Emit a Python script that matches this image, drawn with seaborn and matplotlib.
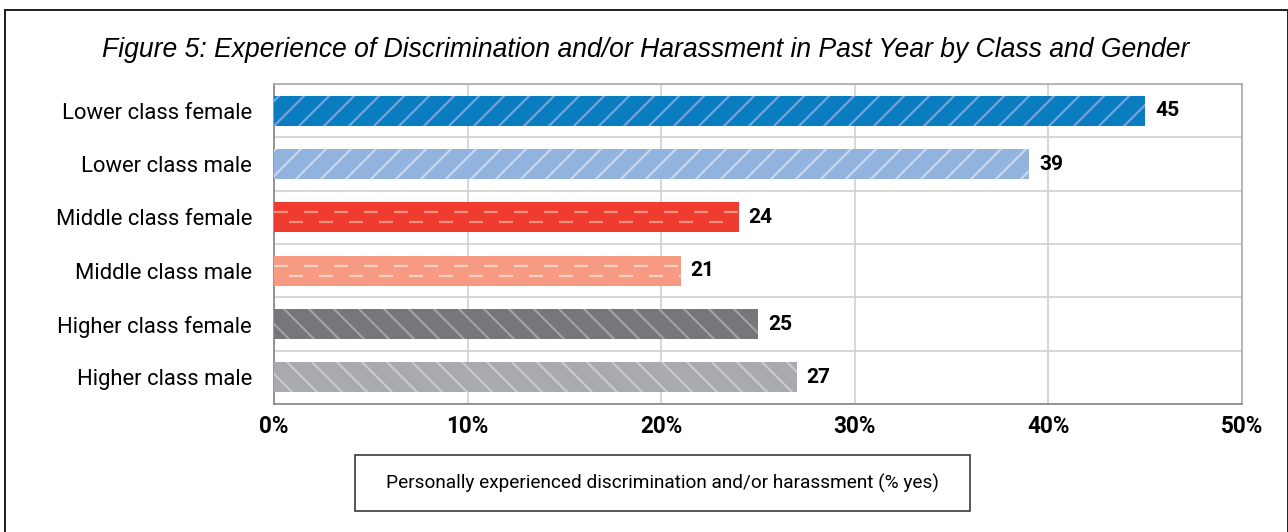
import numpy as np
import pandas as pd
import matplotlib
matplotlib.use("Agg")
import matplotlib.pyplot as plt
from matplotlib.patches import Rectangle
import seaborn as sns

# data
groups = ["Lower class female", "Lower class male", "Middle class female",
          "Middle class male", "Higher class female", "Higher class male"]
values = [45, 39, 24, 21, 25, 27]
bar_colors = ["#0a7dc1", "#93b3df", "#ef3b30", "#f69a83", "#76777a", "#a9aaad"]
hatch_colors = ["#7aa6db", "#c9d9f0", "#f6917b", "#fbcfbf", "#a2a3a5", "#cacbcd"]
hatches = ["//", "//", "dash", "dash", "\\\\", "\\\\"]
x_ticks = [0, 10, 20, 30, 40, 50]
title = "Figure 5: Experience of Discrimination and/or Harassment in Past Year by Class and Gender"
legend_text = "Personally experienced discrimination and/or harassment (% yes)"

DPI = 150
W, H = 1288, 532


def pt(px):
    return px * 72 / DPI


sns.set_style("white")
plt.rcParams["font.family"] = ["Roboto", "DejaVu Sans"]
plt.rcParams["text.color"] = "black"
plt.rcParams["xtick.color"] = "black"
plt.rcParams["ytick.color"] = "black"
plt.rcParams["hatch.linewidth"] = 1.0
plt.rcParams["lines.scale_dashes"] = False

df = pd.DataFrame({"group": groups, "value": values})

fig = plt.figure(figsize=(W / DPI, H / DPI), dpi=DPI)
ax = fig.add_axes([274 / W, 1 - 404 / H, 968 / W, 320 / H])

sns.barplot(data=df, x="value", y="group", hue="group", palette=bar_colors,
            order=groups, hue_order=groups, orient="h", width=0.56,
            saturation=1, legend=False, ax=ax, zorder=3)

# hatching / dashes
patches = [p for c in ax.containers for p in c]
for p, h, hc in zip(patches, hatches, hatch_colors):
    p.set_linewidth(0)
    p.set_edgecolor(hc)
    if h == "dash":
        y0, bh, bw = p.get_y(), p.get_height(), p.get_width()
        for k, off in enumerate([0, 15]):
            yy = y0 + bh * (k + 1) / 3
            ax.plot([0, bw], [yy, yy], color=hc, lw=pt(2.2), zorder=4,
                    solid_capstyle="butt", dash_capstyle="butt",
                    linestyle=(pt(30 - off) if off else 0, (pt(14), pt(16))))
    else:
        p.set_hatch(h)

for c in ax.containers:
    ax.bar_label(c, fmt="%d", padding=pt(10), fontsize=pt(21),
                 fontweight="bold", color="black")

ax.set_xlim(0, 50)
ax.set_ylim(5.5, -0.5)
ax.set_xticks(x_ticks)
ax.set_xticklabels([f"{t}%" for t in x_ticks], fontsize=pt(22.5), fontweight="bold")
ax.set_yticks(np.arange(-0.5, len(groups), 1), minor=True)
ax.tick_params(axis="y", which="major", length=0, pad=pt(22), labelsize=pt(22))
ax.tick_params(axis="y", which="minor", length=pt(4), width=pt(1.5), color="#c4c4c4")
ax.tick_params(axis="x", which="major", length=pt(6), width=pt(1.5), color="#8c8c8c",
               pad=pt(5))
ax.set_xlabel("")
ax.set_ylabel("")

ax.grid(axis="x", which="major", color="#cfcfcf", lw=pt(1.6), zorder=0)
ax.grid(axis="y", which="minor", color="#cfcfcf", lw=pt(1.6), zorder=0)
ax.set_axisbelow(True)
for side in ["top", "right"]:
    ax.spines[side].set_color("#a8a8a8")
    ax.spines[side].set_linewidth(pt(1.6))
for side in ["left", "bottom"]:
    ax.spines[side].set_color("#8c8c8c")
    ax.spines[side].set_linewidth(pt(1.8))

fig.text(646 / W, 1 - 50 / H, title, ha="center", va="center", style="italic",
         fontsize=pt(26.5), family=["Liberation Sans", "DejaVu Sans"])

# legend-like caption box
fig.add_artist(Rectangle((355 / W, 1 - 511 / H), 615 / W, 56 / H,
                         transform=fig.transFigure, fill=False,
                         edgecolor="#333333", lw=pt(1.6)))
fig.text(662.5 / W, 1 - 483 / H, legend_text, ha="center", va="center",
         fontsize=pt(19))

# outer frame
fig.add_artist(Rectangle((5 / W, -0.05), 1282.5 / W, 1.05 - 10 / H,
                         transform=fig.transFigure, fill=False,
                         edgecolor="#222222", lw=pt(2)))

fig.savefig("out.png", dpi=DPI)
